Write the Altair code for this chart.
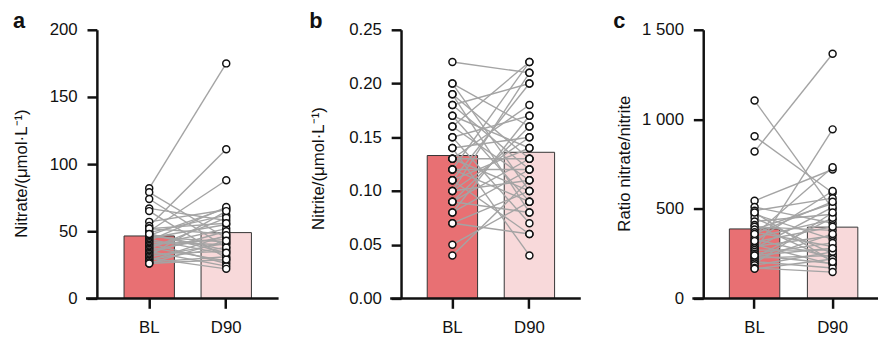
import altair as alt
import pandas as pd

groups = ["BL", "D90"]
bar_colors = ["#E87073", "#F8D9DA"]
letters = ["a", "b", "c"]

# Panel a: nitrate (µmol/L)
nitrate_bl = [82, 79, 74, 67, 65, 57, 54, 52, 50, 49, 48, 47, 46, 45, 44, 43, 42, 41,
              40, 39, 38, 37, 36, 35, 34, 33, 32, 31, 30, 29, 28, 27, 26, 26, 52, 48]
nitrate_d90 = [175, 45, 38, 58, 30, 66, 111, 48, 88, 62, 36, 67, 42, 55, 33, 68, 40, 26,
               44, 52, 28, 60, 46, 24, 50, 35, 65, 41, 22, 38, 47, 31, 43, 29, 56, 34]
nitrate_means = [46.5, 49.0]
nitrate_ticks = [0, 50, 100, 150, 200]

# Panel b: nitrite (µmol/L)
nitrite_bl = [0.22, 0.20, 0.20, 0.19, 0.19, 0.18, 0.18, 0.17, 0.17, 0.16, 0.16, 0.15,
              0.15, 0.14, 0.14, 0.13, 0.13, 0.13, 0.12, 0.12, 0.12, 0.11, 0.11, 0.11,
              0.10, 0.10, 0.10, 0.09, 0.09, 0.09, 0.08, 0.08, 0.07, 0.07, 0.05, 0.04]
nitrite_d90 = [0.21, 0.16, 0.10, 0.13, 0.08, 0.20, 0.12, 0.09, 0.14, 0.22, 0.11, 0.07,
               0.17, 0.04, 0.15, 0.18, 0.13, 0.10, 0.22, 0.12, 0.09, 0.20, 0.14, 0.06,
               0.21, 0.11, 0.15, 0.16, 0.08, 0.13, 0.17, 0.12, 0.10, 0.06, 0.09, 0.11]
nitrite_means = [0.133, 0.136]
nitrite_ticks = [0, 0.05, 0.10, 0.15, 0.20, 0.25]

# Panel c: ratio nitrate/nitrite
ratio_bl = [1105, 905, 820, 545, 510, 490, 470, 450, 430, 410, 400, 385, 370, 355, 340, 330,
            315, 300, 290, 280, 270, 260, 250, 240, 230, 225, 215, 205, 195, 185, 170, 165,
            480, 360, 320, 240]
ratio_d90 = [500, 590, 1366, 720, 420, 560, 330, 250, 470, 210, 380, 530, 290, 733, 440, 230,
             400, 190, 350, 510, 270, 944, 310, 195, 450, 240, 360, 170, 480, 260, 147, 220,
             205, 540, 600, 280]
ratio_means = [388, 398]
ratio_ticks = [0, 500, 1000, 1500]

FONT = "Liberation Sans"
INK = "#111111"
H = 272


def panel(bl, d90, means, ticks, title, letter, width, p_inner, p_outer, align,
          letter_x, title_x, title_y, fmt=None, label_expr=None):
    n = len(bl)
    pts = pd.DataFrame({
        "subject": list(range(n)) * 2,
        "time": ["BL"] * n + ["D90"] * n,
        "value": list(bl) + list(d90),
    })
    bars_df = pd.DataFrame({"time": groups, "mean": means})

    xscale = alt.Scale(domain=groups, paddingInner=p_inner, paddingOuter=p_outer, align=align)
    xaxis = alt.Axis(domain=False, tickSize=10, tickWidth=2.5, tickColor=INK,
                     labelFontSize=17, labelColor=INK, labelFont=FONT, labelPadding=12,
                     labelAngle=0, title=None)
    x = alt.X("time:N", scale=xscale, axis=xaxis)

    yaxis_kwargs = dict(values=ticks, domainColor=INK, domainWidth=2.5, tickColor=INK,
                        tickWidth=2.5, tickSize=10, labelFontSize=17, labelColor=INK,
                        labelFont=FONT, labelPadding=10, grid=False, title=title,
                        titleFontSize=17, titleFont=FONT, titleFontWeight="normal",
                        titleColor=INK, titleX=title_x, titleY=title_y,
                        titleBaseline="middle", titleAngle=270)
    if fmt:
        yaxis_kwargs["format"] = fmt
    if label_expr:
        yaxis_kwargs["labelExpr"] = label_expr
    yscale = alt.Scale(domain=[ticks[0], ticks[-1]], nice=False, zero=True)

    bars = alt.Chart(bars_df).mark_bar(stroke="#333333", strokeWidth=1).encode(
        x=x,
        y=alt.Y("mean:Q", scale=yscale, axis=alt.Axis(**yaxis_kwargs)),
        fill=alt.Fill("time:N", scale=alt.Scale(domain=groups, range=bar_colors), legend=None),
    )
    lines = alt.Chart(pts).mark_line(color="#A4A4A4", strokeWidth=1.4).encode(
        x=x, y=alt.Y("value:Q", scale=yscale), detail="subject:N"
    )
    dots = alt.Chart(pts).mark_point(shape="circle", filled=True, fill="white",
                                     stroke=INK, strokeWidth=1.5, size=50,
                                     opacity=1).encode(
        x=x, y=alt.Y("value:Q", scale=yscale)
    )
    baseline = alt.Chart(pd.DataFrame({"z": [0]})).mark_rule(
        color=INK, strokeWidth=2.5).encode(
        x=alt.value(-11), x2=alt.value(width), y=alt.value(H)
    )
    lab = alt.Chart(pd.DataFrame({"t": [letter]})).mark_text(
        font=FONT, fontSize=22, fontWeight="bold", align="left",
        baseline="alphabetic", color=INK).encode(
        text="t:N", x=alt.value(letter_x), y=alt.value(-2)
    )
    return alt.layer(bars, lines, dots, baseline, lab).properties(width=width, height=H)


pa = panel(nitrate_bl, nitrate_d90, nitrate_means, nitrate_ticks,
           "Nitrate/(μmol·L⁻¹)", letters[0], 184, 0.346, 0.3526, 0.5,
           -85, -76, 145)
pb = panel(nitrite_bl, nitrite_d90, nitrite_means, nitrite_ticks,
           "Nitrite/(μmol·L⁻¹)", letters[1], 182, 0.346, 0.34, 0.5,
           -93, -84, 140, fmt=".2f")
pc = panel(ratio_bl, ratio_d90, ratio_means, ratio_ticks,
           "Ratio nitrate/nitrite", letters[2], 177, 0.354, 0.297, 0.564,
           -91, -80, 135, label_expr="replace(format(datum.value, ','), ',', ' ')")

chart = alt.hconcat(pa, pb, pc, spacing=124, bounds="flush").properties(
    padding={"left": 5, "top": 0, "right": 0, "bottom": 0}
).configure_view(stroke=None)

chart.save("out.html", embed_options={"renderer": "svg", "actions": False})
